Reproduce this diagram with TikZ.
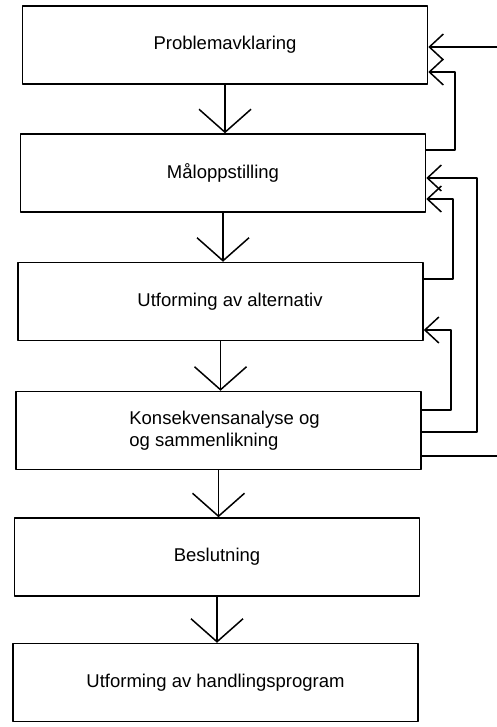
\documentclass[tikz,border=0pt]{standalone}
\usepackage{fontspec}
\setmainfont{Liberation Sans}
\usepackage{tikz}
\usetikzlibrary{arrows.meta}

\begin{document}
\begin{tikzpicture}[line cap=round,line join=round,x=1pt,y=-1pt, line width=1.5pt,
    box/.style={draw, rectangle, minimum width=405pt, minimum height=78pt, inner sep=0pt, font=\fontsize{18.5}{22}\selectfont},
    flow/.style={-{Straight Barb[length=23pt,width=52pt]}},
    fb/.style={-{Straight Barb[length=14pt,width=26pt]}}]
                    \useasboundingbox (0,0) rectangle (497,727);
                    \clip (0,0) rectangle (497,727);

                    \node[box] (prob) at (225,45) {Problemavklaring};
                    \node[box] (maal) at (223,173) {Måloppstilling};
                    \node[box] (alt) at (220.5,301.5) {\hspace*{19pt}Utforming av alternativ};
                    \node[box, align=left] (kons) at (218.5,430.5) {\hspace*{12pt}Konsekvensanalyse og\\\hspace*{12pt}og sammenlikning};
                    \node[box] (besl) at (217,557) {Beslutning};
                    \node[box] (hand) at (215.5,682.5) {Utforming av handlingsprogram};

                    \draw[flow] (prob.south) -- (prob.south |- maal.north);
                    \draw[flow] (maal.south) -- (maal.south |- alt.north);
                    \draw[flow] (alt.south) -- (alt.south |- kons.north);
                    \draw[flow] (kons.south) -- (kons.south |- besl.north);
                    \draw[flow] (besl.south) -- (besl.south |- hand.north);

                    \draw[fb] (maal.east |- 0,150) -- (455,150) |- (prob.east |- 0,72);
                    \draw[fb] (kons.east |- 0,456) -- (510,456) |- (prob.east |- 0,47);
                    \draw[fb] (kons.east |- 0,432) -- (477,432) |- (maal.east |- 0,178);
                    \draw[fb] (alt.east |- 0,279) -- (453,279) |- (maal.east |- 0,199);
                    \draw[fb] (kons.east |- 0,410) -- (451,410) |- (alt.east |- 0,330);
\end{tikzpicture}
\end{document}
